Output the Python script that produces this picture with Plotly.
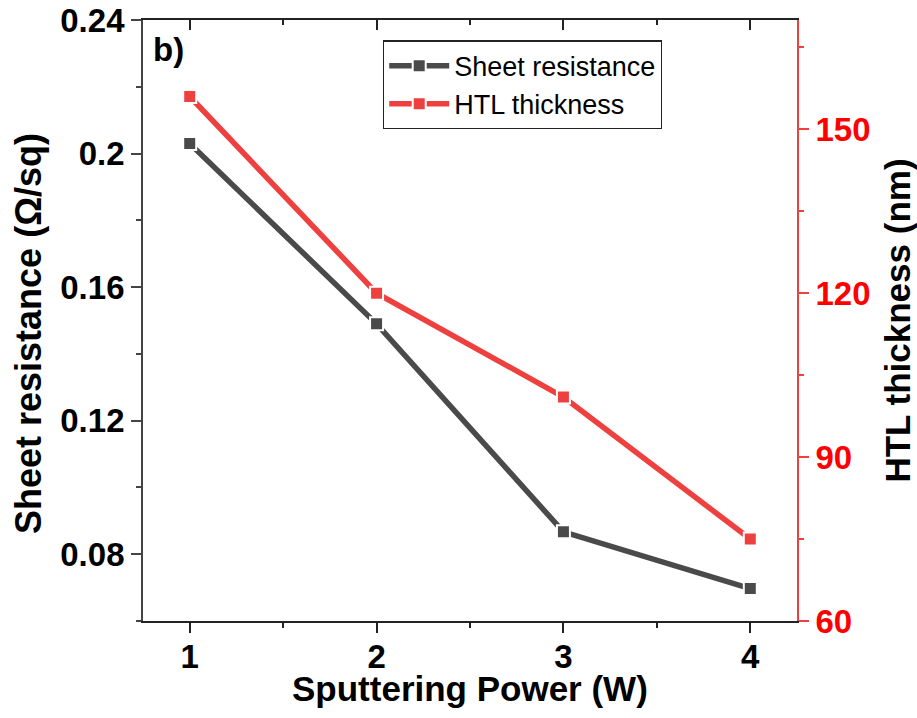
import plotly.graph_objects as go

power = [1, 2, 3, 4]
sheet_resistance = [0.203, 0.149, 0.0867, 0.0697]
htl_thickness = [156, 120, 101, 75]

x_ticks = [1, 2, 3, 4]
y1_ticks = [0.08, 0.12, 0.16, 0.2, 0.24]
y1_ticktext = ["0.08", "0.12", "0.16", "0.2", "0.24"]
y2_ticks = [60, 90, 120, 150]

GRAY = "#4a4a4a"
RED = "#ef4040"
AXIS = "#222222"
FONT = "Liberation Sans, Arial, sans-serif"

fig = go.Figure()
fig.add_trace(go.Scatter(
    x=power, y=sheet_resistance, name="Sheet resistance",
    mode="lines+markers", xaxis="x", yaxis="y",
    line=dict(color=GRAY, width=5.5),
    marker=dict(symbol="square", size=13, color=GRAY, line=dict(color="white", width=2)),
))
fig.add_trace(go.Scatter(
    x=power, y=htl_thickness, name="HTL thickness",
    mode="lines+markers", xaxis="x2", yaxis="y2",
    line=dict(color=RED, width=5.5),
    marker=dict(symbol="square", size=13, color=RED, line=dict(color="white", width=2)),
))

fig.update_layout(
    width=917, height=718,
    margin=dict(l=143, r=120, t=20, b=97),
    paper_bgcolor="white", plot_bgcolor="white",
    font=dict(family=FONT, color="black"),
    showlegend=True,
    legend=dict(
        x=0.367, y=0.966, xanchor="left", yanchor="top",
        bgcolor="white", bordercolor=AXIS, borderwidth=1.2,
        font=dict(family=FONT, size=27, color="black"),
        tracegroupgap=0, itemwidth=60,
    ),
    xaxis=dict(
        range=[0.75, 4.25], domain=[0, 1], anchor="y",
        tickmode="array", tickvals=x_ticks, ticktext=[str(v) for v in x_ticks],
        ticks="outside", ticklen=10, tickwidth=1.5, tickcolor=AXIS,
        minor=dict(dtick=0.5, tick0=0, ticks="outside", ticklen=5, tickwidth=1.5, tickcolor=AXIS),
        showline=True, linecolor=AXIS, linewidth=2, mirror=True,
        showgrid=False, zeroline=False,
        tickfont=dict(size=33, weight="bold"),
        ticklabelstandoff=-5,
        automargin=False,
    ),
    xaxis2=dict(
        range=[0.75, 4.25], overlaying="x", anchor="y2", side="top",
        tickmode="array", tickvals=x_ticks,
        ticks="inside", ticklen=10, tickwidth=1.8, tickcolor=AXIS,
        minor=dict(dtick=0.5, tick0=0, ticks="inside", ticklen=5, tickwidth=1.8, tickcolor=AXIS),
        showline=True, linecolor=AXIS, linewidth=2,
        showticklabels=False, showgrid=False, zeroline=False,
        automargin=False,
    ),
    yaxis=dict(
        range=[0.06, 0.24], domain=[0, 1], anchor="x",
        tickmode="array", tickvals=y1_ticks, ticktext=y1_ticktext,
        ticks="outside", ticklen=10, tickwidth=1.5, tickcolor="#444",
        minor=dict(dtick=0.02, tick0=0, ticks="outside", ticklen=5, tickwidth=1.5, tickcolor="#444"),
        showline=True, linecolor="#444", linewidth=1.8,
        showgrid=False, zeroline=False,
        tickfont=dict(size=33, weight="bold"),
        ticklabeloverflow="allow",
        automargin=False,
    ),
    yaxis2=dict(
        range=[60, 170], overlaying="y", anchor="x2", side="right",
        tickmode="array", tickvals=y2_ticks, ticktext=[str(v) for v in y2_ticks],
        ticks="outside", ticklen=10, tickwidth=1.5, tickcolor=RED,
        minor=dict(dtick=15, tick0=0, ticks="outside", ticklen=5, tickwidth=1.5, tickcolor=RED),
        showline=True, linecolor=RED, linewidth=1.8,
        showgrid=False, zeroline=False,
        tickfont=dict(size=33, weight="bold", color="#ff0000"),
        ticklabeloverflow="allow",
        title=dict(text="HTL thickness (nm)", font=dict(size=35, weight="bold", color="black"), standoff=17),
        automargin=False,
    ),
    annotations=[
        dict(
            text="<b>b)</b>", xref="paper", yref="paper", x=0.012, y=0.985,
            xanchor="left", yanchor="top", showarrow=False,
            font=dict(family=FONT, size=33, color="black"),
        ),
        dict(
            text="<b>Sputtering Power (W)</b>", xref="paper", yref="paper", x=0.5, y=-0.113,
            xanchor="center", yanchor="middle", showarrow=False,
            font=dict(family=FONT, size=35, color="black"),
        ),
        dict(
            text="<b>Sheet resistance (Ω/sq)</b>", xref="paper", yref="paper", x=-0.176, y=0.479,
            xanchor="center", yanchor="middle", textangle=-90, showarrow=False,
            font=dict(family=FONT, size=36, color="black"),
        ),
    ],
)

fig.write_html(
    "out.html",
    config={"displayModeBar": False},
    post_script="document.body.style.margin='0';document.body.style.overflow='hidden';",
)
